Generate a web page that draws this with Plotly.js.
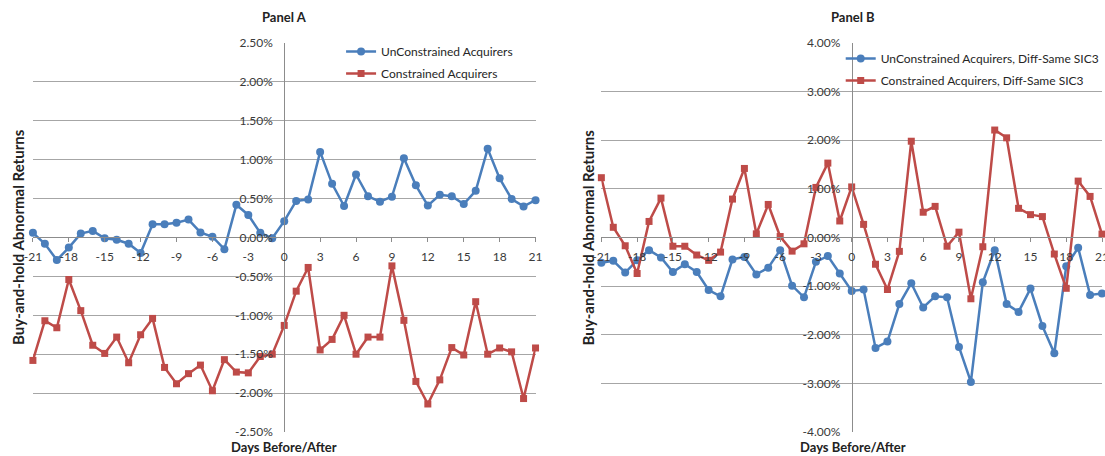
<!DOCTYPE html>
<html>
<head>
<meta charset="utf-8">
<script src="https://cdn.plot.ly/plotly-3.0.1.min.js"></script>
<style>html,body{margin:0;padding:0;background:#fff;}#chart{width:1105px;height:456px;}</style>
</head>
<body>
<div id="chart"></div>
<script>
// ---- Data ----
var days = [-21,-20,-19,-18,-17,-16,-15,-14,-13,-12,-11,-10,-9,-8,-7,-6,-5,-4,-3,-2,-1,0,1,2,3,4,5,6,7,8,9,10,11,12,13,14,15,16,17,18,19,20,21];

// Panel A (values in %)
var unconstrainedA = [0.06,-0.08,-0.29,-0.13,0.05,0.085,-0.01,-0.03,-0.08,-0.20,0.17,0.17,0.19,0.23,0.065,0.01,-0.15,0.42,0.29,0.06,-0.01,0.21,0.47,0.49,1.10,0.69,0.405,0.81,0.53,0.46,0.525,1.02,0.67,0.41,0.55,0.53,0.43,0.60,1.14,0.76,0.495,0.40,0.48];
var constrainedA = [-1.58,-1.07,-1.16,-0.54,-0.94,-1.385,-1.49,-1.28,-1.61,-1.25,-1.04,-1.67,-1.88,-1.75,-1.64,-1.97,-1.57,-1.73,-1.74,-1.53,-1.50,-1.13,-0.69,-0.385,-1.445,-1.31,-1.00,-1.50,-1.28,-1.28,-0.365,-1.065,-1.85,-2.14,-1.83,-1.415,-1.51,-0.825,-1.50,-1.42,-1.47,-2.07,-1.42];

// Panel B (values in %)
var unconstrainedB = [-0.52,-0.48,-0.72,-0.47,-0.26,-0.41,-0.71,-0.55,-0.71,-1.08,-1.21,-0.45,-0.40,-0.76,-0.62,-0.26,-0.99,-1.23,-0.50,-0.38,-0.74,-1.10,-1.07,-2.27,-2.14,-1.37,-0.94,-1.44,-1.21,-1.23,-2.25,-2.97,-0.92,-0.26,-1.37,-1.53,-1.05,-1.82,-2.38,-0.59,-0.21,-1.18,-1.15];
var constrainedB = [1.23,0.21,-0.17,-0.74,0.33,0.81,-0.18,-0.18,-0.36,-0.47,-0.30,0.79,1.42,0.075,0.68,0.02,-0.28,-0.13,1.03,1.53,0.34,1.04,0.27,-0.55,-1.07,-0.285,1.98,0.52,0.64,-0.18,0.11,-1.26,-0.19,2.21,2.05,0.60,0.47,0.43,-0.34,-1.045,1.16,0.845,0.07];

// Tick labels
var xTickVals = [-21,-18,-15,-12,-9,-6,-3,0,3,6,9,12,15,18,21];
var xTickText = ["-21","-18","-15","-12","-9","-6","-3","0","3","6","9","12","15","18","21"];
var yTickValsA = [-2.5,-2.0,-1.5,-1.0,-0.5,0,0.5,1.0,1.5,2.0,2.5];
var yTickTextA = ["-2.50%","-2.00%","-1.50%","-1.00%","-0.50%","0.00%","0.50%","1.00%","1.50%","2.00%","2.50%"];
var yTickValsB = [-4,-3,-2,-1,0,1,2,3,4];
var yTickTextB = ["-4.00%","-3.00%","-2.00%","-1.00%","0.00%","1.00%","2.00%","3.00%","4.00%"];

var seriesNamesA = ["UnConstrained Acquirers","Constrained Acquirers"];
var seriesNamesB = ["UnConstrained Acquirers, Diff-Same SIC3","Constrained Acquirers, Diff-Same SIC3"];

// ---- Styles ----
var W = 1105, H = 456;
var BLUE = "#4A7EBB", RED = "#BE4B48";
var FONT = "Lato, 'Open Sans', sans-serif";
function px(x){return x/W;}
function py(y){return (H-y)/H;}

var yDom = [py(432), py(43)];
var xZeroPos = py(237.3);

function blueTrace(xa, ya, y, name, leg){
  return {x: days, y: y, name: name, type: "scatter", mode: "lines+markers",
    xaxis: xa, yaxis: ya, legend: leg, cliponaxis: false, legendgroup: name,
    line: {color: BLUE, width: 2.5},
    marker: {symbol: "circle", size: 8, color: BLUE}};
}
function redTrace(xa, ya, y, name, leg){
  return {x: days, y: y, name: name, type: "scatter", mode: "lines+markers",
    xaxis: xa, yaxis: ya, legend: leg, cliponaxis: false, legendgroup: name,
    line: {color: RED, width: 2.5},
    marker: {symbol: "square", size: 7, color: RED}};
}

var traces = [
  blueTrace("x","y",unconstrainedA,seriesNamesA[0],"legend"),
  redTrace("x","y",constrainedA,seriesNamesA[1],"legend"),
  blueTrace("x2","y2",unconstrainedB,seriesNamesB[0],"legend2"),
  redTrace("x2","y2",constrainedB,seriesNamesB[1],"legend2")
];

var tickFont = {family: FONT, size: 12, color: "#3a3a3a"};
function xAxis(domain){
  return {domain: domain, range: [-21,21], anchor: "free", position: xZeroPos,
    showline: true, linecolor: "#8c8c8c", linewidth: 1,
    ticks: "outside", ticklen: 4, tickcolor: "#8c8c8c",
    tickvals: xTickVals, ticktext: xTickText, tickfont: tickFont,
    ticklabelstandoff: 4, ticklabeloverflow: "allow",
    showgrid: false, zeroline: false, fixedrange: true};
}
function yAxis(range, vals, text, pos){
  return {domain: yDom, range: range, anchor: "free", position: pos,
    showline: true, linecolor: "#8c8c8c", linewidth: 1,
    ticks: "", tickvals: vals, ticktext: text, tickfont: tickFont,
    ticklabelstandoff: 9,
    showgrid: true, gridcolor: "#a6a6a6", gridwidth: 1,
    zeroline: false, fixedrange: true};
}

var titleFont = {family: FONT, size: 13, color: "#222"};
var yTitleFont = {family: FONT, size: 15, color: "#222"};
var annotations = [
  {text: "<b>Panel A</b>", x: px(285), y: py(17)},
  {text: "<b>Panel B</b>", x: px(855), y: py(17)},
  {text: "<b>Days Before/After</b>", x: px(285), y: py(447)},
  {text: "<b>Days Before/After</b>", x: px(855), y: py(447)},
  {text: "<b>Buy-and-hold Abnormal Returns</b>", x: px(18), y: py(237), textangle: -90, font: yTitleFont},
  {text: "<b>Buy-and-hold Abnormal Returns</b>", x: px(590), y: py(237), textangle: -90, font: yTitleFont}
].map(function(a){
  return Object.assign({xref: "paper", yref: "paper", xanchor: "center", yanchor: "middle",
    showarrow: false, font: titleFont}, a);
});

var legendFont = {family: FONT, size: 12, color: "#262626"};
var layout = {
  width: W, height: H,
  margin: {l: 0, r: 0, t: 0, b: 0, pad: 0},
  paper_bgcolor: "#fff", plot_bgcolor: "rgba(0,0,0,0)",
  font: {family: FONT},
  showlegend: true,
  xaxis: xAxis([px(33), px(537)]),
  yaxis: yAxis([-2.5,2.5], yTickValsA, yTickTextA, px(285)),
  xaxis2: xAxis([px(603), 1]),
  yaxis2: yAxis([-4,4], yTickValsB, yTickTextB, px(854)),
  legend: {x: px(342), y: py(37), xanchor: "left", yanchor: "top",
    bgcolor: "rgba(255,255,255,0)", borderwidth: 0, font: legendFont,
    itemwidth: 30, tracegroupgap: 3, traceorder: "grouped"},
  legend2: {x: px(843), y: py(44), xanchor: "left", yanchor: "top",
    bgcolor: "rgba(255,255,255,0)", borderwidth: 0, font: legendFont,
    itemwidth: 30, tracegroupgap: 3, traceorder: "grouped"},
  annotations: annotations
};

Plotly.newPlot("chart", traces, layout, {displayModeBar: false, staticPlot: true});
</script>
</body>
</html>
